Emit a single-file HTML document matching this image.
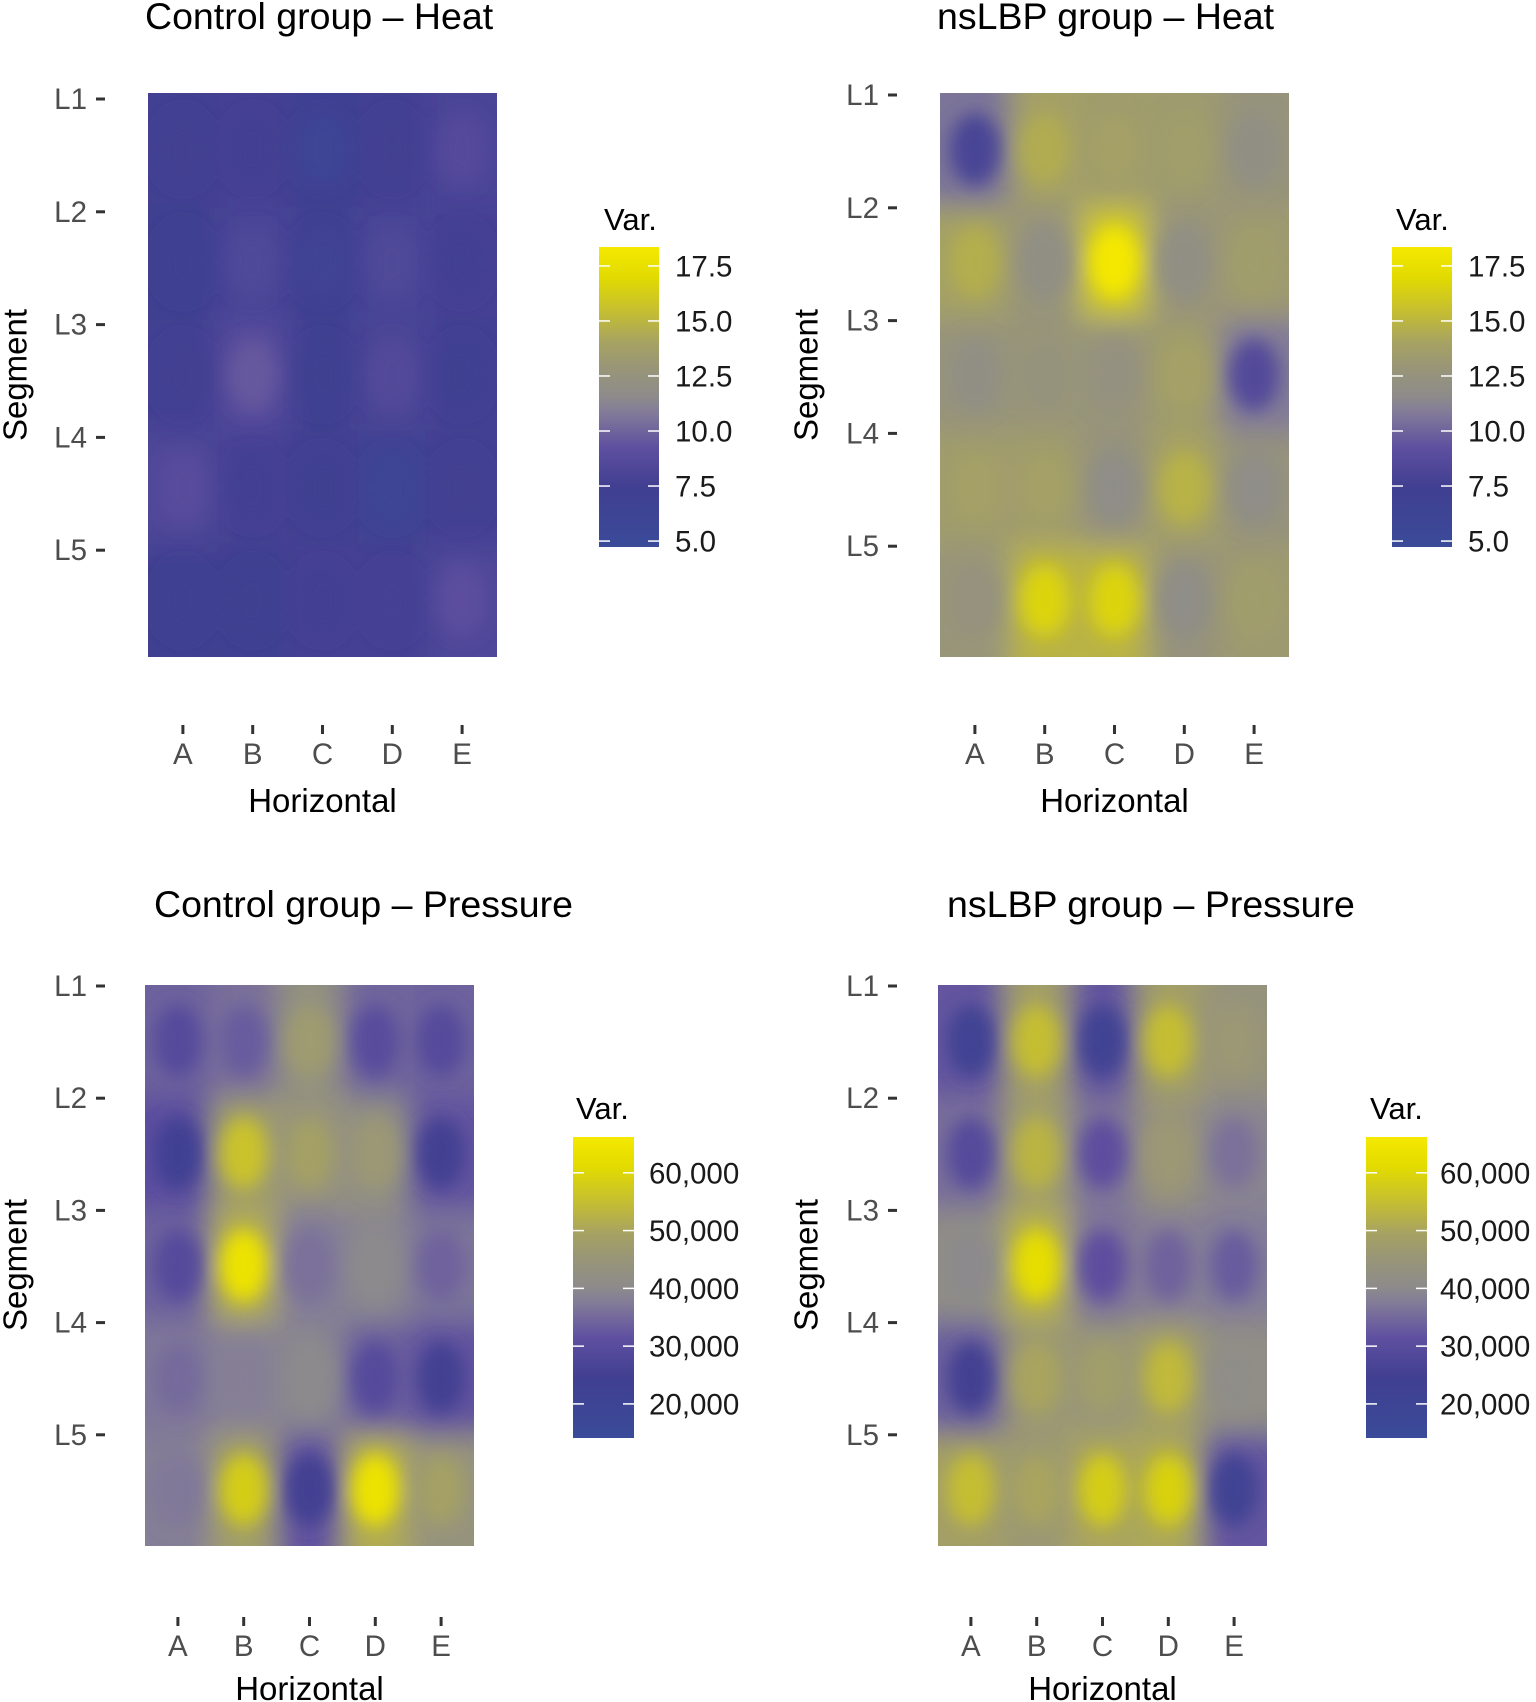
<!DOCTYPE html>
<html><head><meta charset="utf-8"><style>
html,body{margin:0;padding:0;background:#fff;}
svg{display:block;font-family:"Liberation Sans",Arial,sans-serif;}
</style></head><body>
<svg id="chart" width="1536" height="1702" viewBox="0 0 1536 1702">
<defs>
<filter id="blurT" x="-20%" y="-20%" width="140%" height="140%"><feGaussianBlur stdDeviation="14"/></filter>
<filter id="blurE" x="-50%" y="-50%" width="200%" height="200%"><feGaussianBlur stdDeviation="9"/></filter>
</defs>
</svg>
<script>
const colLabels = ['A','B','C','D','E'];
const segLabels = ['L1','L2','L3','L4','L5'];
const controlHeat = [
  [7.5, 7.6, 6.2, 7.5, 8.6],
  [7.0, 8.4, 6.5, 8.4, 7.6],
  [7.5, 9.6, 7.3, 8.5, 7.4],
  [8.9, 7.6, 7.4, 6.0, 7.5],
  [7.1, 7.3, 7.6, 7.7, 9.1]
];
const nslbpHeat = [
  [8.0, 14.5, 13.8, 13.6, 12.0],
  [14.6, 12.0, 18.3, 12.0, 13.5],
  [12.0, 12.5, 12.3, 13.8, 8.5],
  [13.8, 13.8, 11.8, 14.8, 11.8],
  [12.4, 16.6, 16.6, 11.8, 13.5]
];
const controlPressure = [
  [29000, 33000, 47000, 30000, 29000],
  [23000, 56000, 49000, 46000, 25000],
  [29000, 64000, 36000, 40000, 34000],
  [35000, 38000, 40000, 29000, 25000],
  [37000, 58000, 25000, 64000, 49000]
];
const nslbpPressure = [
  [22000, 55000, 22000, 55000, 46000],
  [29000, 53000, 31000, 46000, 36000],
  [40000, 62000, 31000, 34000, 33000],
  [25000, 50000, 48000, 54000, 41000],
  [55000, 50000, 58000, 59000, 22000]
];
const heatTicks = [5, 7.5, 10, 12.5, 15, 17.5];
const heatTickLabels = ['5.0','7.5','10.0','12.5','15.0','17.5'];
const pressureTicks = [20000, 30000, 40000, 50000, 60000];
const pressureTickLabels = ['20,000','30,000','40,000','50,000','60,000'];

const cmapStops=[[0,'#3a4b99'],[0.2,'#413f91'],[0.33,'#5e4fa0'],[0.45,'#837c98'],[0.5,'#8d8b8b'],[0.6,'#999677'],[0.68,'#a6a262'],[0.78,'#c4bd34'],[0.9,'#e2db00'],[1,'#f5e900']];
function hex(c){return [parseInt(c.substr(1,2),16),parseInt(c.substr(3,2),16),parseInt(c.substr(5,2),16)];}
function cmap(t){
  t=Math.max(0,Math.min(1,t));
  for(let i=1;i<cmapStops.length;i++){
    if(t<=cmapStops[i][0]){
      const a=cmapStops[i-1],b=cmapStops[i];const f=(t-a[0])/(b[0]-a[0]);
      const A=hex(a[1]),B=hex(b[1]);
      return 'rgb('+A.map((v,k)=>Math.round(v+(B[k]-v)*f)).join(',')+')';
    }
  }
  return cmapStops[cmapStops.length-1][1];
}
const NS='http://www.w3.org/2000/svg';
const svg=document.getElementById('chart');
function mk(tag,attrs,parent){const e=document.createElementNS(NS,tag);for(const k in attrs)e.setAttribute(k,attrs[k]);(parent||svg).appendChild(e);return e;}

const panels=[
 {key:'control-heat',title:'Control group \u2013 Heat',tx:145,ty:29,px:148,py:93,pw:349,ph:564,yOff:6,data:controlHeat,vmin:4.73,vmax:18.36,
  ylabR:87,tick0:96,segX:15,segY:375,xtY:725,xlY:764,hY:812,lx:599,ly:247,lw:60,lh:300,varX:604,varY:230,labX:675,ticks:heatTicks,tickLabels:heatTickLabels},
 {key:'nslbp-heat',title:'nsLBP group \u2013 Heat',tx:937,ty:29,px:940,py:93,pw:349,ph:564,yOff:2,data:nslbpHeat,vmin:4.73,vmax:18.36,
  ylabR:879,tick0:888,segX:806,segY:375,xtY:725,xlY:764,hY:812,lx:1392,ly:247,lw:60,lh:300,varX:1396,varY:230,labX:1468,ticks:heatTicks,tickLabels:heatTickLabels},
 {key:'control-pressure',title:'Control group \u2013 Pressure',tx:154,ty:917,px:145,py:985,pw:329,ph:561,yOff:1,data:controlPressure,vmin:14100,vmax:66200,
  ylabR:87,tick0:96,segX:15,segY:1265,xtY:1617,xlY:1656,hY:1700,lx:573,ly:1137,lw:61,lh:301,varX:576,varY:1119,labX:649,ticks:pressureTicks,tickLabels:pressureTickLabels},
 {key:'nslbp-pressure',title:'nsLBP group \u2013 Pressure',tx:947,ty:917,px:938,py:985,pw:329,ph:561,yOff:1,data:nslbpPressure,vmin:14100,vmax:66200,
  ylabR:879,tick0:888,segX:806,segY:1265,xtY:1617,xlY:1656,hY:1700,lx:1366,ly:1137,lw:61,lh:301,varX:1370,varY:1119,labX:1440,ticks:pressureTicks,tickLabels:pressureTickLabels}
];

panels.forEach((p,pi)=>{
  const g=mk('g',{});
  
  
  const t=mk('text',{x:p.tx,y:p.ty,'font-size':37.5,fill:'#000'},g);t.textContent=p.title;
  
  

  const n=p.data.length,m=p.data[0].length;
  const cw=p.pw/m,rh=p.ph/n;
  const xScale=c=>p.px+cw*(c+0.5);
  const yScale=r=>p.py+rh*(r+0.5);
  const tv=v=>(v-p.vmin)/(p.vmax-p.vmin);
  let sum=0;p.data.forEach(r=>r.forEach(v=>sum+=v));const bg=sum/(n*m);

  const cid='clip'+pi;
  const cp=mk('clipPath',{id:cid},svg.querySelector('defs'));
  mk('rect',{x:p.px,y:p.py,width:p.pw,height:p.ph},cp);
  const hm=mk('g',{'clip-path':'url(#'+cid+')'},g);
  
  
  mk('rect',{x:p.px,y:p.py,width:p.pw,height:p.ph,fill:cmap(tv(bg))},hm);
  const tiles=mk('g',{filter:'url(#blurT)'},hm);
  const blobs=mk('g',{filter:'url(#blurE)'},hm);
  p.data.forEach((row,r)=>row.forEach((v,c)=>{
    const ext=30;
    let x0=xScale(c)-cw/2,x1=xScale(c)+cw/2,y0=yScale(r)-rh/2,y1=yScale(r)+rh/2;
    if(c===0)x0-=ext; if(c===m-1)x1+=ext; if(r===0)y0-=ext; if(r===n-1)y1+=ext;
    const tr=mk('rect',{x:x0,y:y0,width:x1-x0,height:y1-y0,fill:cmap(tv(0.5*v+0.5*bg))},tiles);
    
    
    const el=mk('ellipse',{cx:xScale(c),cy:yScale(r),rx:cw*0.36,ry:rh*0.32,fill:cmap(tv(v))},blobs);
    
    
  }));

  segLabels.forEach((s,k)=>{
    const y=p.py+p.yOff+k*rh;
    const tl=mk('text',{x:p.ylabR,y:y+10,'font-size':29.5,fill:'#4d4d4d','text-anchor':'end'},g);tl.textContent=s;
    
    
    mk('line',{x1:p.tick0,x2:p.tick0+9,y1:y,y2:y,stroke:'#333','stroke-width':3},g);
  });
  const st=mk('text',{x:p.segX,y:p.segY,'font-size':33,fill:'#000','text-anchor':'middle','dominant-baseline':'central',transform:'rotate(-90 '+p.segX+' '+p.segY+')'},g);
  st.textContent='Segment';
  
  
  colLabels.forEach((s,c)=>{
    const x=xScale(c);
    mk('line',{x1:x,x2:x,y1:p.xtY,y2:p.xtY+9,stroke:'#333','stroke-width':3},g);
    const xl=mk('text',{x:x,y:p.xlY,'font-size':29.5,fill:'#4d4d4d','text-anchor':'middle'},g);xl.textContent=s;
    
    
  });
  const ht=mk('text',{x:p.px+p.pw/2,y:p.hY,'font-size':33,fill:'#000','text-anchor':'middle'},g);ht.textContent='Horizontal';
  
  

  const lg=mk('g',{},g);
  
  
  const gid='grad'+pi;
  const grad=mk('linearGradient',{id:gid,x1:0,y1:1,x2:0,y2:0},svg.querySelector('defs'));
  cmapStops.forEach(s=>mk('stop',{offset:s[0],'stop-color':s[1]},grad));
  const vt=mk('text',{x:p.varX,y:p.varY,'font-size':31,fill:'#000'},lg);vt.textContent='Var.';
  
  
  const bar=mk('rect',{x:p.lx,y:p.ly,width:p.lw,height:p.lh,fill:'url(#'+gid+')'},lg);
  
  
  const ly=v=>p.ly+p.lh-(v-p.vmin)/(p.vmax-p.vmin)*p.lh;
  p.ticks.forEach((v,k)=>{
    const y=ly(v);
    mk('line',{x1:p.lx,x2:p.lx+11,y1:y,y2:y,stroke:'#fff','stroke-width':1.5},lg);
    mk('line',{x1:p.lx+p.lw-11,x2:p.lx+p.lw,y1:y,y2:y,stroke:'#fff','stroke-width':1.5},lg);
    const lt=mk('text',{x:p.labX,y:y+10.5,'font-size':29.5,fill:'#1a1a1a'},lg);lt.textContent=p.tickLabels[k];
    
    
  });
});
</script>
</body></html>
